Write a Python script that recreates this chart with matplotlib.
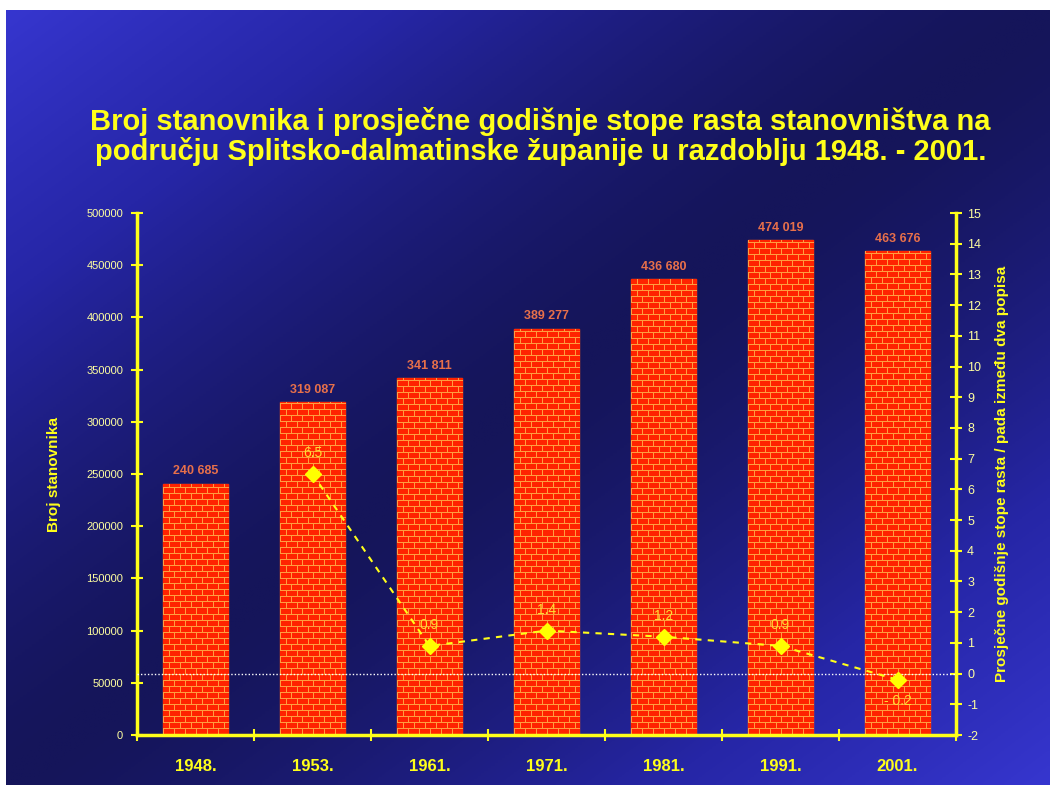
import numpy as np
import matplotlib
matplotlib.use("Agg")
import matplotlib.pyplot as plt
from matplotlib.colors import LinearSegmentedColormap

# data
years = ["1948.", "1953.", "1961.", "1971.", "1981.", "1991.", "2001."]
population = [240685, 319087, 341811, 389277, 436680, 474019, 463676]
pop_labels = ["240 685", "319 087", "341 811", "389 277", "436 680", "474 019", "463 676"]
rate_years = [1, 2, 3, 4, 5, 6]          # index into years
rates = [6.5, 0.9, 1.4, 1.2, 0.9, -0.2]
rate_labels = ["6.5", "0.9", "1.4", "1.2", "0.9", "- 0.2"]

plt.rcParams['font.family'] = ['Liberation Sans', 'DejaVu Sans']
plt.rcParams['axes.unicode_minus'] = False
YEL = '#ffff1a'
W, H = 1058, 788

fig = plt.figure(figsize=(W / 100, H / 100), dpi=100)
fig.patch.set_facecolor('white')

# gradient background
bg = fig.add_axes([6 / W, 3 / H, 1044 / W, 775 / H])
bg.set_axis_off()
u, v = np.meshgrid(np.linspace(0, 1, 300), np.linspace(0, 1, 300))
grad = np.abs(u + v - 1) ** 1.5
cmap = LinearSegmentedColormap.from_list('bg', ['#15155a', '#2626a6', '#3636cf'])
bg.imshow(grad, cmap=cmap, aspect='auto', extent=(0, 1, 1, 0), vmin=0, vmax=1)
bg.set_xlim(0, 1)
bg.set_ylim(1, 0)

fig.text(0.511, 1 - 121 / H, "Broj stanovnika i prosječne godišnje stope rasta stanovništva na",
         ha='center', va='center', color=YEL, fontsize=21, fontweight='bold')
fig.text(0.511, 1 - 151 / H, "području Splitsko-dalmatinske županije u razdoblju 1948. - 2001.",
         ha='center', va='center', color=YEL, fontsize=21, fontweight='bold')

ax = fig.add_axes([137 / W, (H - 735) / H, (956 - 137) / W, (735 - 213) / H])
ax.set_facecolor('none')
x = np.arange(len(years))
bw = 0.56
bars = ax.bar(x, population, width=bw, color='#ff2400', edgecolor='#ff5a1a', linewidth=1, zorder=2)
ax.set_xlim(-0.5, len(years) - 0.5)
ax.set_ylim(0, 500000)

# brick texture clipped to each bar
px_w = int(round(bw * (956 - 137) / len(years)))
for b, val, lab in zip(bars, population, pop_labels):
    px_h = int(round(val / 500000 * 522))
    tex = np.zeros((px_h, px_w, 3))
    tex[:] = np.array([1.0, 0.14, 0.0])
    mortar = np.array([1.0, 0.62, 0.25])
    for r in range(px_h):
        row = (px_h - 1 - r)
        course = row // 6
        if row % 6 == 0:
            tex[r, :] = mortar
        else:
            off = 0 if course % 2 == 0 else 5
            for c in range(px_w):
                if (c + off) % 11 == 0:
                    tex[r, c] = mortar
    im = ax.imshow(tex, extent=(b.get_x(), b.get_x() + bw, 0, val), aspect='auto',
                   interpolation='nearest', zorder=2.5)
    im.set_clip_path(b)
    ax.text(b.get_x() + bw / 2, val + 6000, lab, ha='center', va='bottom',
            color='#e8704a', fontsize=9, fontweight='bold', zorder=5)

ax.set_yticks(np.arange(0, 500001, 50000))
ax.set_yticklabels([str(t) for t in range(0, 500001, 50000)])
ax.set_xticks(x)
ax.set_xticklabels(years)
ax.set_xticks(np.arange(-0.5, len(years), 1.0), minor=True)
ax.tick_params(axis='x', which='major', length=0, pad=17, labelsize=12, labelcolor=YEL)
for t in ax.get_xticklabels():
    t.set_fontweight('bold')
ax.tick_params(axis='x', which='minor', length=9, width=1.5, color=YEL, direction='inout')
ax.tick_params(axis='y', length=8, width=1.5, color=YEL, direction='inout', labelsize=8,
               labelcolor='#ffffa0', pad=6)
for s in ['top', 'right']:
    ax.spines[s].set_visible(False)
for s in ['left', 'bottom']:
    ax.spines[s].set_color(YEL)
    ax.spines[s].set_linewidth(2.5)
    ax.spines[s].set_zorder(6)
ax.set_ylabel("Broj stanovnika", color=YEL, fontsize=11, fontweight='bold', labelpad=18)

ax2 = ax.twinx()
ax2.set_ylim(-2, 15)
ax2.set_yticks(range(-2, 16))
ax2.tick_params(axis='y', length=8, width=1.5, color=YEL, direction='inout', labelsize=9,
                labelcolor='#ffffa0', pad=4)
for s in ['top', 'left', 'bottom']:
    ax2.spines[s].set_visible(False)
ax2.spines['right'].set_color(YEL)
ax2.spines['right'].set_linewidth(2.5)
ax2.axhline(0, color='white', linestyle=(0, (1, 1.5)), linewidth=1, zorder=3)
ax2.plot(rate_years, rates, color=YEL, linestyle=(0, (3, 3)), linewidth=1.5,
         marker='D', markersize=8, markerfacecolor='#ffff00', markeredgecolor='#ffff00', zorder=4)
for xi, r, lab in zip(rate_years, rates, rate_labels):
    if r >= 0:
        ax2.text(xi, r + 0.45, lab, ha='center', va='bottom', color='#ffdd33', fontsize=10, zorder=5)
    else:
        ax2.text(xi, r - 0.45, lab, ha='center', va='top', color='#ffdd33', fontsize=10, zorder=5)
ax2.set_ylabel("Prosječne godišnje stope rasta / pada između dva popisa", color=YEL,
               fontsize=11, fontweight='bold', labelpad=10)

fig.savefig("out.png", dpi=100)
